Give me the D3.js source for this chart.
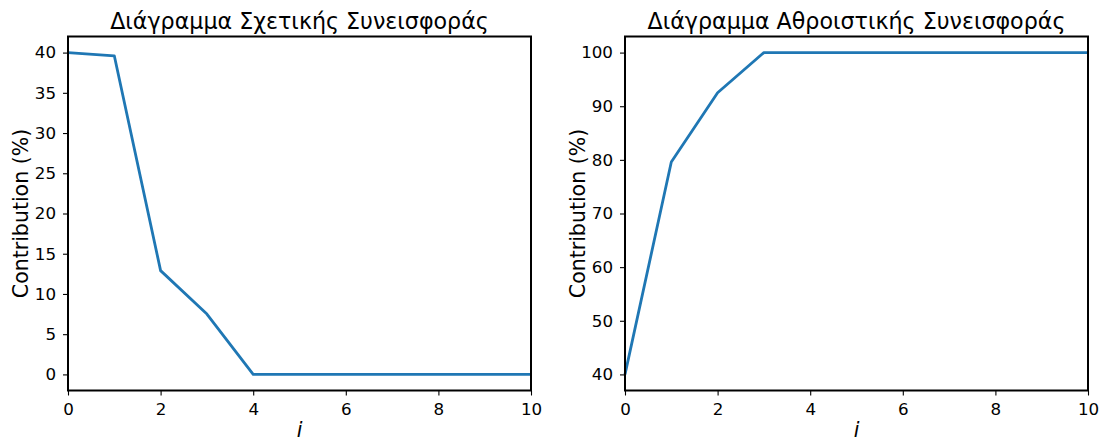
<!DOCTYPE html>
<html><head><meta charset="utf-8">
<script src="https://cdn.jsdelivr.net/npm/d3@7"></script>
<style>
body{margin:0;background:#fff;}
text{font-family:"DejaVu Sans",sans-serif;fill:#000;}
</style></head>
<body><svg id="c" width="1104" height="441"></svg>
<script>
const idx = [0,1,2,3,4,5,6,7,8,9,10];
const relative = [40.0,39.6,12.9,7.5,0,0,0,0,0,0,0];
const cumulative = [40.0,79.6,92.5,100,100,100,100,100,100,100,100];
const xTicks = [0,2,4,6,8,10];
const relTicks = [0,5,10,15,20,25,30,35,40];
const cumTicks = [40,50,60,70,80,90,100];
const titles = ["Διάγραμμα Σχετικής Συνεισφοράς","Διάγραμμα Αθροιστικής Συνεισφοράς"];

const svg = d3.select("#c");
function panel(x0, x1, y0, y1, vals, ydom, yticks, title){
  const g = svg.append("g");
  const x = d3.scaleLinear().domain([0,10]).range([x0,x1]);
  const y = d3.scaleLinear().domain(ydom).range([y1,y0]);
  const line = d3.line().x((d,i)=>x(idx[i])).y(d=>y(d));
  g.append("path").datum(vals).attr("d",line).attr("fill","none")
    .attr("stroke","#1f77b4").attr("stroke-width",2.8).attr("stroke-linejoin","round");
  const xa = g.append("g").attr("transform",`translate(0,${y1})`)
    .call(d3.axisBottom(x).tickValues(xTicks).tickSize(5).tickPadding(7.5).tickFormat(d3.format("d")));
  const ya = g.append("g").attr("transform",`translate(${x0},0)`)
    .call(d3.axisLeft(y).tickValues(yticks).tickSize(5).tickPadding(7).tickFormat(d3.format("d")));
  [xa,ya].forEach(a=>{
    a.select(".domain").remove();
    a.selectAll("line").attr("stroke","#000").attr("stroke-width",1.1);
    a.selectAll("text").style("font-size","16.7px").attr("fill","#000");
  });
  g.append("rect").attr("x",x0).attr("y",y0).attr("width",x1-x0).attr("height",y1-y0)
    .attr("fill","none").attr("stroke","#000").attr("stroke-width",2);
  g.append("text").attr("x",(x0+x1)/2).attr("y",y0-8).attr("text-anchor","middle")
    .style("font-size","22.2px").text(title);
  g.append("text").attr("x",(x0+x1)/2).attr("y",y1+46).attr("text-anchor","middle")
    .style("font-size","20.5px").style("font-style","italic").text("i");
  g.append("text").attr("transform",`translate(${x0-40},${(y0+y1)/2}) rotate(-90)`)
    .attr("text-anchor","middle").style("font-size","20.5px").text("Contribution (%)");
}
panel(68, 531, 36.5, 390.5, relative, [-2,42], relTicks, titles[0]);
panel(625, 1088, 36.5, 390.5, cumulative, [37,103], cumTicks, titles[1]);
</script></body></html>
